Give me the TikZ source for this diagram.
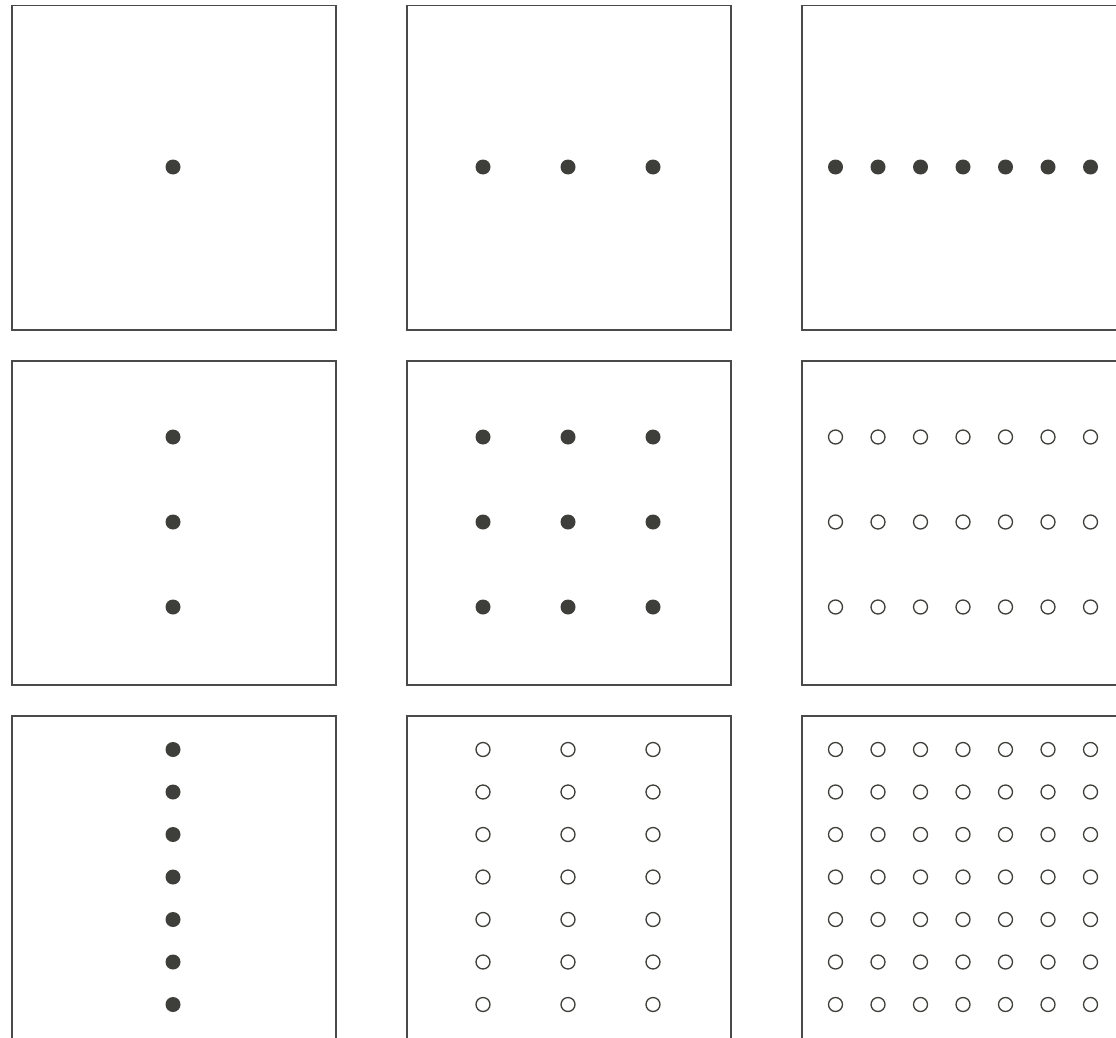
\documentclass[tikz,border=0pt]{standalone}
\begin{document}
\begin{tikzpicture}[x=1pt,y=-1pt,
  panel/.style={draw=boxgray,line width=1.5pt},
  fdot/.style={circle,fill=dotgray,draw=none,minimum size=15pt,inner sep=0pt},
  odot/.style={circle,draw=dotgray,fill=white,line width=1.3pt,minimum size=14pt,inner sep=0pt}]
\definecolor{boxgray}{HTML}{4A4A48}
\definecolor{dotgray}{HTML}{3E3E3A}
\useasboundingbox (0,0) rectangle (1116,1038);
\clip (0,0) rectangle (1116,1038);
\foreach \i/\ny/\sy/\top in {1/1/0/5,2/3/85/360,3/7/42.5/715}{
  \foreach \j/\nx/\sx/\left in {1/1/0/11,2/3/85/406,3/7/42.5/801}{
    \node[panel,minimum width=324pt,minimum height=324pt,inner sep=0pt,anchor=north west] (p\i\j) at (\left,\top) {};
    \pgfmathtruncatemacro{\tot}{\nx*\ny}
    \foreach \a in {1,...,\nx}{
      \foreach \b in {1,...,\ny}{
        \pgfmathsetmacro{\cx}{\left+162+(\a-(\nx+1)/2)*\sx}
        \pgfmathsetmacro{\cy}{\top+162+(\b-(\ny+1)/2)*\sy}
        \ifnum\tot<10
          \node[fdot] (d\i\j-\a-\b) at (\cx,\cy) {};
        \else
          \node[odot] (d\i\j-\a-\b) at (\cx,\cy) {};
        \fi
      }
    }
  }
}
\end{tikzpicture}
\end{document}
